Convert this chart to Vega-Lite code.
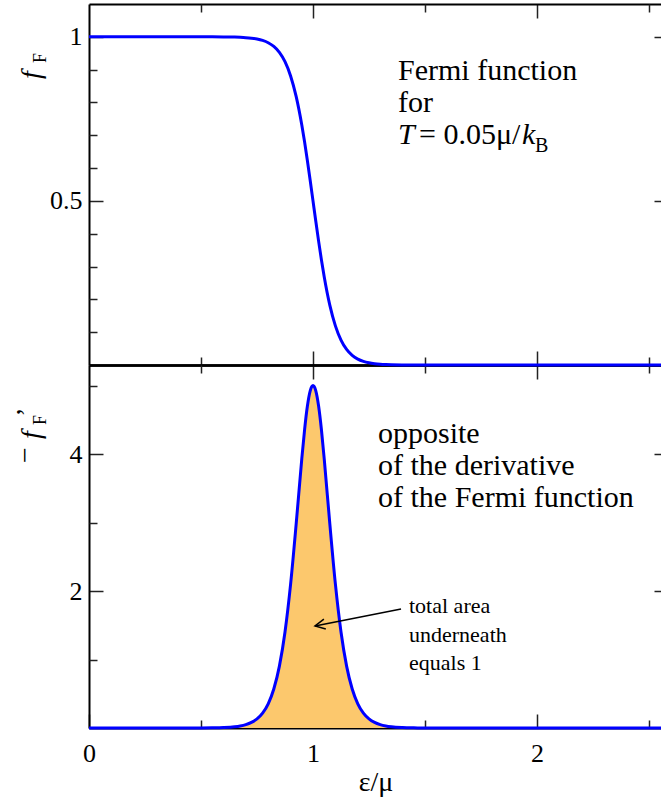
{
  "$schema": "https://vega.github.io/schema/vega-lite/v6.json",
  "width": 573,
  "height": 724,
  "autosize": {"type": "none"},
  "padding": {"left": 89, "top": 4, "right": 0, "bottom": 72},
  "background": "white",
  "config": {
    "view": {"stroke": null},
    "font": "Liberation Serif",
    "text": {"font": "Liberation Serif", "color": "#000"},
    "axis": {
      "grid": false,
      "domainColor": "#000",
      "domainWidth": 2,
      "tickColor": "#222",
      "tickWidth": 1.5,
      "labelFont": "Liberation Serif",
      "labelFontSize": 26,
      "labelColor": "#000",
      "labelFlush": false,
      "labelPadding": 21,
      "format": "~g",
      "titleFont": "Liberation Serif",
      "titleFontSize": 28,
      "titleFontWeight": "normal",
      "titleColor": "#000"
    }
  },
  "datasets": {
    "fermi": [
      {"x": 0, "f": 1, "g": 0},
      {"x": 0.4, "f": 0.999994, "g": 0.000123},
      {"x": 0.5, "f": 0.999955, "g": 0.000908},
      {"x": 0.55, "f": 0.999877, "g": 0.002467},
      {"x": 0.6, "f": 0.999665, "g": 0.006705},
      {"x": 0.65, "f": 0.999089, "g": 0.0182},
      {"x": 0.675, "f": 0.998499, "g": 0.02997},
      {"x": 0.7, "f": 0.997527, "g": 0.04933},
      {"x": 0.725, "f": 0.99593, "g": 0.08107},
      {"x": 0.75, "f": 0.993307, "g": 0.133},
      {"x": 0.775, "f": 0.989013, "g": 0.2173},
      {"x": 0.8, "f": 0.982014, "g": 0.3533},
      {"x": 0.825, "f": 0.970688, "g": 0.5691},
      {"x": 0.85, "f": 0.952574, "g": 0.9035},
      {"x": 0.875, "f": 0.924142, "g": 1.4021},
      {"x": 0.9, "f": 0.880797, "g": 2.0999},
      {"x": 0.925, "f": 0.817574, "g": 2.983},
      {"x": 0.95, "f": 0.731059, "g": 3.9322},
      {"x": 0.9625, "f": 0.679179, "g": 4.3579},
      {"x": 0.975, "f": 0.622459, "g": 4.7001},
      {"x": 0.9875, "f": 0.562177, "g": 4.9227},
      {"x": 1, "f": 0.5, "g": 5},
      {"x": 1.0125, "f": 0.437823, "g": 4.9227},
      {"x": 1.025, "f": 0.377541, "g": 4.7001},
      {"x": 1.0375, "f": 0.320821, "g": 4.3579},
      {"x": 1.05, "f": 0.268941, "g": 3.9322},
      {"x": 1.075, "f": 0.182426, "g": 2.983},
      {"x": 1.1, "f": 0.119203, "g": 2.0999},
      {"x": 1.125, "f": 0.075858, "g": 1.4021},
      {"x": 1.15, "f": 0.047426, "g": 0.9035},
      {"x": 1.175, "f": 0.029312, "g": 0.5691},
      {"x": 1.2, "f": 0.017986, "g": 0.3533},
      {"x": 1.225, "f": 0.010987, "g": 0.2173},
      {"x": 1.25, "f": 0.006693, "g": 0.133},
      {"x": 1.275, "f": 0.00407, "g": 0.08107},
      {"x": 1.3, "f": 0.002473, "g": 0.04933},
      {"x": 1.325, "f": 0.001501, "g": 0.02997},
      {"x": 1.35, "f": 0.000911, "g": 0.0182},
      {"x": 1.4, "f": 0.000335, "g": 0.006705},
      {"x": 1.45, "f": 0.000123, "g": 0.002467},
      {"x": 1.5, "f": 0.0000454, "g": 0.000908},
      {"x": 1.6, "f": 0.0000061, "g": 0.000123},
      {"x": 2.558, "f": 0, "g": 0}
    ]
  },
  "resolve": {"scale": {"y": "independent"}, "axis": {"x": "independent", "y": "independent"}},
  "layer": [
    {
      "resolve": {"axis": {"x": "independent", "y": "independent"}},
      "layer": [
        {
          "data": {"name": "fermi"},
          "mark": {"type": "line", "color": "#0000ff", "strokeWidth": 3, "interpolate": "monotone"},
          "encoding": {
            "x": {"field": "x", "type": "quantitative", "scale": {"domain": [0, 2.558], "nice": false, "zero": false},
                  "axis": {"orient": "top", "values": [1, 2], "tickSize": -14, "labels": false, "title": null, "domain": true}},
            "y": {"field": "f", "type": "quantitative", "scale": {"domain": [0, 1.1], "range": [361, 0], "nice": false, "zero": false},
                  "axis": {"orient": "left", "values": [0.5, 1], "tickSize": -14, "title": null, "domain": true}}
          }
        },
        {
          "data": {"values": [
            {"x": 1.3795, "y": 0.8684, "t": "Fermi function"},
            {"x": 1.3795, "y": 0.7709, "t": "for"},
            {"x": 1.4732, "y": 0.6734, "t": "= 0.05μ/"}
          ]},
          "mark": {"type": "text", "align": "left", "baseline": "alphabetic", "fontSize": 30},
          "encoding": {
            "x": {"field": "x", "type": "quantitative", "scale": {"domain": [0, 2.558], "nice": false, "zero": false},
                  "axis": {"orient": "top", "values": [0.5, 1.5, 2.5], "tickSize": -8, "labels": false, "title": null, "domain": false}},
            "y": {"field": "y", "type": "quantitative", "scale": {"domain": [0, 1.1], "range": [361, 0], "nice": false, "zero": false},
                  "axis": {"orient": "left", "values": [0.1, 0.2, 0.3, 0.4, 0.6, 0.7, 0.8, 0.9], "tickSize": -8, "labels": false, "title": null, "domain": false}},
            "text": {"field": "t"}
          }
        },
        {
          "data": {"values": [
            {"x": 1.3795, "y": 0.6734, "t": "T"},
            {"x": 1.933, "y": 0.6734, "t": "k"}
          ]},
          "mark": {"type": "text", "align": "left", "baseline": "alphabetic", "fontSize": 30, "fontStyle": "italic"},
          "encoding": {
            "x": {"field": "x", "type": "quantitative", "scale": {"domain": [0, 2.558], "nice": false, "zero": false},
                  "axis": {"orient": "bottom", "offset": -363, "values": [1, 2], "tickSize": -14, "labels": false, "title": null, "domain": true, "domainWidth": 2.5}},
            "y": {"field": "y", "type": "quantitative", "scale": {"domain": [0, 1.1], "range": [361, 0], "nice": false, "zero": false},
                  "axis": {"orient": "right", "values": [0.5, 1], "tickSize": -8, "labels": false, "title": null, "domain": false}},
            "text": {"field": "t"}
          }
        },
        {
          "data": {"values": [
            {"x": 1.9911, "y": 0.649, "t": "B"}
          ]},
          "mark": {"type": "text", "align": "left", "baseline": "alphabetic", "fontSize": 20},
          "encoding": {
            "x": {"field": "x", "type": "quantitative", "scale": {"domain": [0, 2.558], "nice": false, "zero": false},
                  "axis": {"orient": "bottom", "offset": -363, "values": [0.5, 1.5, 2.5], "tickSize": -8, "labels": false, "title": null, "domain": false}},
            "y": {"field": "y", "type": "quantitative", "scale": {"domain": [0, 1.1], "range": [361, 0], "nice": false, "zero": false}, "axis": null},
            "text": {"field": "t"}
          }
        },
        {
          "data": {"values": [
            {"x": -0.21875, "y": 0.8836, "t": "f"}
          ]},
          "mark": {"type": "text", "align": "center", "baseline": "alphabetic", "fontSize": 28, "fontStyle": "italic", "angle": 270},
          "encoding": {
            "x": {"field": "x", "type": "quantitative", "scale": {"domain": [0, 2.558], "nice": false, "zero": false}, "axis": null},
            "y": {"field": "y", "type": "quantitative", "scale": {"domain": [0, 1.1], "range": [361, 0], "nice": false, "zero": false}, "axis": null},
            "text": {"field": "t"}
          }
        },
        {
          "data": {"values": [
            {"x": -0.192, "y": 0.9354, "t": "F"}
          ]},
          "mark": {"type": "text", "align": "center", "baseline": "alphabetic", "fontSize": 18, "angle": 270},
          "encoding": {
            "x": {"field": "x", "type": "quantitative", "scale": {"domain": [0, 2.558], "nice": false, "zero": false}, "axis": null},
            "y": {"field": "y", "type": "quantitative", "scale": {"domain": [0, 1.1], "range": [361, 0], "nice": false, "zero": false}, "axis": null},
            "text": {"field": "t"}
          }
        }
      ]
    },
    {
      "resolve": {"axis": {"x": "independent", "y": "independent"}},
      "layer": [
        {
          "data": {"name": "fermi"},
          "mark": {"type": "area", "color": "#fcc86d", "interpolate": "monotone"},
          "encoding": {
            "x": {"field": "x", "type": "quantitative", "scale": {"domain": [0, 2.558], "nice": false, "zero": false},
                  "axis": {"orient": "bottom", "values": [0, 1, 2], "tickSize": -14, "labelPadding": 26, "title": "ε/μ", "titlePadding": 2, "domain": true}},
            "y": {"field": "g", "type": "quantitative", "scale": {"domain": [0, 5.3], "range": [724, 361], "nice": false, "zero": false},
                  "axis": {"orient": "left", "values": [2, 4], "tickSize": -14, "title": null, "domain": true}}
          }
        },
        {
          "data": {"name": "fermi"},
          "mark": {"type": "line", "color": "#0000ff", "strokeWidth": 3, "interpolate": "monotone"},
          "encoding": {
            "x": {"field": "x", "type": "quantitative", "scale": {"domain": [0, 2.558], "nice": false, "zero": false},
                  "axis": {"orient": "bottom", "values": [0.5, 1.5, 2.5], "tickSize": -8, "labels": false, "title": null, "domain": false}},
            "y": {"field": "g", "type": "quantitative", "scale": {"domain": [0, 5.3], "range": [724, 361], "nice": false, "zero": false},
                  "axis": {"orient": "left", "values": [1, 3, 5], "tickSize": -8, "labels": false, "title": null, "domain": false}}
          }
        },
        {
          "data": {"values": [
            {"x": 1.2902, "y": 4.161, "t": "opposite"},
            {"x": 1.2902, "y": 3.694, "t": "of the derivative"},
            {"x": 1.2902, "y": 3.227, "t": "of the Fermi function"}
          ]},
          "mark": {"type": "text", "align": "left", "baseline": "alphabetic", "fontSize": 30},
          "encoding": {
            "x": {"field": "x", "type": "quantitative", "scale": {"domain": [0, 2.558], "nice": false, "zero": false},
                  "axis": {"orient": "top", "offset": -361, "values": [1, 2], "tickSize": -14, "labels": false, "title": null, "domain": true, "domainWidth": 2.5}},
            "y": {"field": "y", "type": "quantitative", "scale": {"domain": [0, 5.3], "range": [724, 361], "nice": false, "zero": false},
                  "axis": {"orient": "right", "values": [2, 4], "tickSize": -8, "labels": false, "title": null, "domain": false}},
            "text": {"field": "t"}
          }
        },
        {
          "data": {"values": [
            {"x": 1.4286, "y": 1.679, "t": "total area"},
            {"x": 1.4286, "y": 1.256, "t": "underneath"},
            {"x": 1.4286, "y": 0.847, "t": "equals 1"}
          ]},
          "mark": {"type": "text", "align": "left", "baseline": "alphabetic", "fontSize": 22},
          "encoding": {
            "x": {"field": "x", "type": "quantitative", "scale": {"domain": [0, 2.558], "nice": false, "zero": false},
                  "axis": {"orient": "top", "offset": -361, "values": [0.5, 1.5, 2.5], "tickSize": -8, "labels": false, "title": null, "domain": false}},
            "y": {"field": "y", "type": "quantitative", "scale": {"domain": [0, 5.3], "range": [724, 361], "nice": false, "zero": false}, "axis": null},
            "text": {"field": "t"}
          }
        },
        {
          "data": {"values": [
            {"x": 1.393, "y": 1.7375, "x2": 1.009, "y2": 1.489}
          ]},
          "mark": {"type": "rule", "color": "#000", "strokeWidth": 1.5},
          "encoding": {
            "x": {"field": "x", "type": "quantitative", "scale": {"domain": [0, 2.558], "nice": false, "zero": false}, "axis": null},
            "y": {"field": "y", "type": "quantitative", "scale": {"domain": [0, 5.3], "range": [724, 361], "nice": false, "zero": false}, "axis": null},
            "x2": {"field": "x2"},
            "y2": {"field": "y2"}
          }
        },
        {
          "data": {"values": [
            {"x": 1.009, "y": 1.489}
          ]},
          "mark": {"type": "point", "shape": "M-1,-0.5L0,0L-1,0.5", "filled": false, "stroke": "#000", "strokeWidth": 1.5, "size": 400, "angle": 169, "opacity": 1},
          "encoding": {
            "x": {"field": "x", "type": "quantitative", "scale": {"domain": [0, 2.558], "nice": false, "zero": false}, "axis": null},
            "y": {"field": "y", "type": "quantitative", "scale": {"domain": [0, 5.3], "range": [724, 361], "nice": false, "zero": false}, "axis": null}
          }
        },
        {
          "data": {"values": [
            {"x": -0.2455, "y": 3.986, "t": "−"},
            {"x": -0.241, "y": 4.614, "t": "’"}
          ]},
          "mark": {"type": "text", "align": "center", "baseline": "alphabetic", "fontSize": 28, "angle": 270},
          "encoding": {
            "x": {"field": "x", "type": "quantitative", "scale": {"domain": [0, 2.558], "nice": false, "zero": false}, "axis": null},
            "y": {"field": "y", "type": "quantitative", "scale": {"domain": [0, 5.3], "range": [724, 361], "nice": false, "zero": false}, "axis": null},
            "text": {"field": "t"}
          }
        },
        {
          "data": {"values": [
            {"x": -0.21875, "y": 4.278, "t": "f"}
          ]},
          "mark": {"type": "text", "align": "center", "baseline": "alphabetic", "fontSize": 28, "fontStyle": "italic", "angle": 270},
          "encoding": {
            "x": {"field": "x", "type": "quantitative", "scale": {"domain": [0, 2.558], "nice": false, "zero": false}, "axis": null},
            "y": {"field": "y", "type": "quantitative", "scale": {"domain": [0, 5.3], "range": [724, 361], "nice": false, "zero": false}, "axis": null},
            "text": {"field": "t"}
          }
        },
        {
          "data": {"values": [
            {"x": -0.192, "y": 4.497, "t": "F"}
          ]},
          "mark": {"type": "text", "align": "center", "baseline": "alphabetic", "fontSize": 18, "angle": 270},
          "encoding": {
            "x": {"field": "x", "type": "quantitative", "scale": {"domain": [0, 2.558], "nice": false, "zero": false}, "axis": null},
            "y": {"field": "y", "type": "quantitative", "scale": {"domain": [0, 5.3], "range": [724, 361], "nice": false, "zero": false}, "axis": null},
            "text": {"field": "t"}
          }
        }
      ]
    }
  ]
}
